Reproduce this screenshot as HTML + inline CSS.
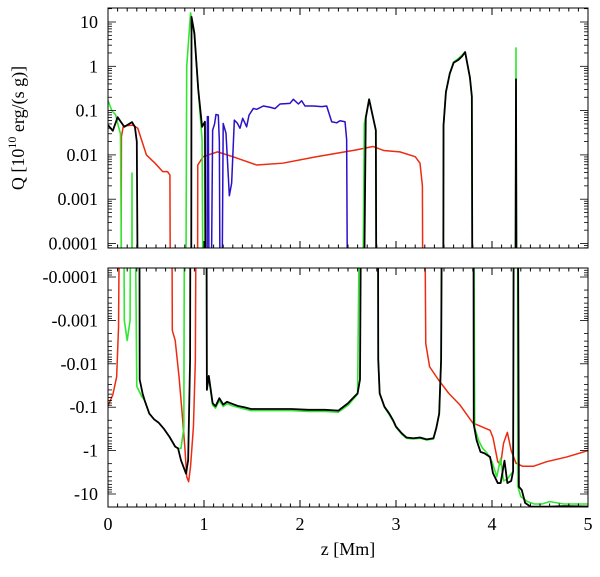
<!DOCTYPE html>
<html><head><meta charset="utf-8"><style>
html,body{margin:0;padding:0;background:#fff;}
svg{display:block;font-family:"Liberation Serif",serif;}
</style></head><body>
<svg id="chart" width="600" height="577" viewBox="0 0 600 577"></svg>
<script>
const zBlack=[0,0.05,0.10,0.17,0.25,0.28,0.30,0.32,0.325,0.33,0.36,0.38,0.43,0.48,0.53,0.58,0.64,0.70,0.73,0.76,0.813,0.835,0.855,0.861,0.865,0.87,0.90,0.94,0.98,1.01,1.02,1.023,1.03,1.05,1.09,1.12,1.16,1.20,1.24,1.29,1.35,1.42,1.49,1.62,1.74,1.91,2.09,2.26,2.40,2.50,2.57,2.60,2.625,2.645,2.65,2.685,2.72,2.79,2.80,2.81,2.815,2.83,2.88,2.93,2.97,3.00,3.06,3.11,3.18,3.25,3.32,3.39,3.42,3.45,3.47,3.485,3.49,3.495,3.52,3.56,3.60,3.65,3.69,3.72,3.77,3.79,3.80,3.805,3.81,3.84,3.88,3.92,3.98,4.01,4.06,4.09,4.13,4.16,4.20,4.22,4.23,4.24,4.25,4.26,4.265,4.28,4.31,4.345,4.40,4.6,4.75,5.0];
const qBlack=[0.047,0.035,0.071,0.043,0.055,0.043,0.02,1e-9,-1e-9,-0.023,-0.048,-0.068,-0.14,-0.19,-0.23,-0.31,-0.48,-0.81,-0.89,-1.66,-3.4,-1.66,-0.008,-1e-9,1e-9,13,5.6,0.3,0.043,0.056,1e-9,-1e-9,-0.04,-0.019,-0.081,-0.095,-0.062,-0.087,-0.075,-0.083,-0.093,-0.10,-0.11,-0.11,-0.11,-0.11,-0.115,-0.115,-0.12,-0.081,-0.056,-0.048,-0.023,-1e-9,1e-9,0.068,0.18,0.036,1e-9,-1e-9,-0.008,-0.048,-0.098,-0.14,-0.2,-0.28,-0.4,-0.5,-0.52,-0.5,-0.55,-0.52,-0.3,-0.14,-0.008,-1e-9,1e-9,0.046,0.26,0.68,1.2,1.4,1.7,2.1,0.56,0.21,1e-9,-1e-9,-0.25,-0.58,-1.07,-1.15,-1.4,-3.3,-5.6,-5.6,-1.7,-5.6,-5.0,-3,-1e-9,1e-9,0.51,1e-9,-1e-9,-6.8,-8.1,-16,-19.5,-19.5,-19,-19.5];
const zGreen=[0,0.04,0.08,0.11,0.13,0.155,0.157,0.17,0.20,0.23,0.24,0.245,0.25,0.255,0.27,0.30,0.35,0.38,0.43,0.48,0.53,0.58,0.64,0.70,0.73,0.76,0.79,0.80,0.805,0.82,0.86,0.90,0.94,0.98,1.00,1.02,1.03,1.05,1.09,1.12,1.16,1.20,1.24,1.29,1.35,1.42,1.49,1.62,1.74,1.91,2.09,2.26,2.40,2.50,2.57,2.60,2.635,2.64,2.67,2.72,2.79,2.80,2.81,2.815,2.83,2.88,2.93,2.97,3.00,3.06,3.11,3.18,3.25,3.32,3.39,3.42,3.45,3.47,3.485,3.49,3.495,3.52,3.56,3.60,3.65,3.69,3.72,3.77,3.79,3.80,3.805,3.82,3.86,3.90,3.95,4.00,4.05,4.09,4.12,4.16,4.22,4.23,4.24,4.25,4.26,4.265,4.27,4.30,4.37,4.44,4.52,4.6,4.75,5.0];
const qGreen=[0.17,0.10,0.08,0.043,0.03,1e-9,-1e-9,-0.001,-0.0029,-0.001,-1e-9,1e-9,0.0039,1e-9,-1e-9,-0.033,-0.056,-0.068,-0.14,-0.19,-0.23,-0.31,-0.48,-0.81,-0.89,-0.89,-0.3,-1e-9,1e-9,1.0,16,5,0.3,0.022,1e-9,-1e-9,-0.035,-0.021,-0.09,-0.105,-0.07,-0.096,-0.083,-0.092,-0.1,-0.11,-0.12,-0.12,-0.12,-0.12,-0.125,-0.125,-0.13,-0.09,-0.06,-0.05,-1e-9,1e-9,0.05,0.18,0.036,1e-9,-1e-9,-0.008,-0.05,-0.1,-0.15,-0.21,-0.29,-0.42,-0.52,-0.54,-0.52,-0.57,-0.54,-0.31,-0.14,-0.008,-1e-9,1e-9,0.05,0.27,0.7,1.25,1.5,1.8,2.1,0.56,0.21,1e-9,-1e-9,-0.3,-0.58,-0.87,-1.15,-1.8,-4.0,-1.5,-5,-4.5,-3,-1e-9,1e-9,2.6,1e-9,-1e-9,-6.8,-11.5,-15,-17,-17,-15,-17,-17];
const zRed=[0,0.05,0.09,0.11,0.13,0.132,0.14,0.16,0.26,0.31,0.40,0.49,0.57,0.62,0.645,0.655,0.66,0.67,0.70,0.74,0.77,0.80,0.82,0.84,0.86,0.89,0.91,0.924,0.93,0.935,0.99,1.14,1.30,1.55,1.82,2.17,2.58,2.76,2.87,3.04,3.20,3.25,3.275,3.285,3.29,3.31,3.35,3.44,3.55,3.667,3.80,3.98,4.01,4.06,4.09,4.12,4.16,4.20,4.25,4.32,4.43,4.57,4.78,5.0];
const qRed=[-0.093,-0.052,-0.02,-0.0014,-1e-9,1e-9,0.026,0.045,0.047,0.04,0.01,0.0065,0.0042,0.0042,0.0035,1e-9,-1e-9,-0.0017,-0.0029,-0.02,-0.12,-0.81,-4,-5.2,-2.3,-0.28,-0.0083,-1e-9,1e-9,0.0059,0.0091,0.0117,0.0091,0.0059,0.0065,0.0091,0.0129,0.0155,0.0126,0.0117,0.0091,0.0065,0.002,1e-9,-1e-9,-0.0034,-0.0117,-0.023,-0.048,-0.089,-0.23,-0.34,-0.5,-1.8,-2.1,-0.68,-0.38,-1,-1.95,-2.3,-2.3,-1.8,-1.4,-1.0];
const zBlue=[1.03,1.035,1.045,1.06,1.09,1.11,1.125,1.149,1.16,1.175,1.20,1.229,1.264,1.288,1.316,1.347,1.375,1.403,1.427,1.444,1.469,1.514,1.549,1.618,1.688,1.740,1.792,1.896,1.931,1.983,2.017,2.052,2.139,2.226,2.278,2.330,2.382,2.417,2.469,2.486,2.503];
const qBlue=[1e-9,0.073,0.073,1e-9,0.036,0.05,0.082,0.079,0.02,1e-9,0.051,0.031,0.0012,0.0023,0.061,0.052,0.04,0.067,0.052,0.043,0.079,0.112,0.107,0.127,0.119,0.111,0.141,0.146,0.18,0.141,0.167,0.127,0.127,0.123,0.127,0.056,0.053,0.059,0.056,0.022,1e-9];
const xTicks=[0,1,2,3,4,5];
const topTickLabels=["10","1","0.1","0.01","0.001","0.0001"];
const topTickLogs=[1,0,-1,-2,-3,-4];
const botTickLabels=["-0.0001","-0.001","-0.01","-0.1","-1","-10"];
const botTickLogs=[-4,-3,-2,-1,0,1];

const NS="http://www.w3.org/2000/svg";
const svg=document.getElementById('chart');
const L=108,R=588,T1=8,B1=248,T2=268,B2=507;
const xs=z=>L+(z-0)*(R-L)/5;
const yTop=lg=>22+(1-lg)*44.3;
const yBot=lg=>277+(lg+4)*43.4;
function mk(tag,attrs,parent){const e=document.createElementNS(NS,tag);for(const k in attrs)e.setAttribute(k,attrs[k]);(parent||svg).appendChild(e);return e;}
const defs=mk('defs',{});
const c1=mk('clipPath',{id:'clipTop'},defs);mk('rect',{x:L,y:T1,width:R-L,height:B1-T1},c1);
const c2=mk('clipPath',{id:'clipBot'},defs);mk('rect',{x:L,y:T2,width:R-L,height:B2-T2},c2);

function series(zArr,qArr,color,w,name){
  const topPts=zArr.map((z,i)=>[xs(z),yTop(qArr[i]>0?Math.log10(qArr[i]):-8)]);
  const botPts=zArr.map((z,i)=>[xs(z),yBot(qArr[i]<0?Math.log10(-qArr[i]):-8)]);
  const g1=mk('g',{'clip-path':'url(#clipTop)'});
  const p1=mk('polyline',{points:topPts.map(p=>p.join(',')).join(' '),fill:'none',stroke:color,'stroke-width':w,'stroke-linejoin':'round'},g1);
  
  
  if(qArr.some(q=>q<0)){
    const g2=mk('g',{'clip-path':'url(#clipBot)'});
    const p2=mk('polyline',{points:botPts.map(p=>p.join(',')).join(' '),fill:'none',stroke:color,'stroke-width':w,'stroke-linejoin':'round'},g2);
    
    
  }
}
series(zRed,qRed,'#ee2a10',1.5,'red-series');
series(zBlue,qBlue,'#2a10c8',1.5,'blue-series');
series(zGreen,qGreen,'#30e830',1.6,'green-series');
series(zBlack,qBlack,'#000',1.8,'black-series');

function panel(T,B,yf,logs,labels,name){
  const fr=mk('rect',{x:L,y:T,width:R-L,height:B-T,fill:'none',stroke:'#000','stroke-width':1});
  
  
  for(let i=0;i<=50;i++){
    const x=xs(i/10),len=(i%10===0)?7:3.5;
    mk('line',{x1:x,y1:B,x2:x,y2:B-len,stroke:'#000','stroke-width':1});
    mk('line',{x1:x,y1:T,x2:x,y2:T+len,stroke:'#000','stroke-width':1});
  }
  for(let d=-6;d<=2;d++){
    for(let m=1;m<10;m++){
      const y=yf(d+Math.log10(m));
      if(y<T||y>B)continue;
      const len=m===1?8:4;
      mk('line',{x1:L,y1:y,x2:L+len,y2:y,stroke:'#000','stroke-width':0.8});
      mk('line',{x1:R,y1:y,x2:R-len,y2:y,stroke:'#000','stroke-width':0.8});
    }
  }
  logs.forEach((lg,i)=>{
    const t=mk('text',{x:98,y:yf(lg)+6,'text-anchor':'end','font-size':18});
    t.textContent=labels[i];
    
    
  });
}
panel(T1,B1,yTop,topTickLogs,topTickLabels,'top-panel');
panel(T2,B2,yBot,botTickLogs,botTickLabels,'bottom-panel');
xTicks.forEach(v=>{
  const t=mk('text',{x:xs(v),y:530,'text-anchor':'middle','font-size':18});
  t.textContent=String(v);
  
  
});
</script>
<svg width="600" height="577" style="position:absolute;left:0;top:0;font-family:'Liberation Serif',serif">
<text x="348" y="555" text-anchor="middle" font-size="18">z [Mm]</text>
<text transform="translate(24,128) rotate(-90)" text-anchor="middle" font-size="18">Q [10<tspan dy="-8" font-size="12">10</tspan><tspan dy="8"> erg/(s g)]</tspan></text>
</svg>
</body></html>
